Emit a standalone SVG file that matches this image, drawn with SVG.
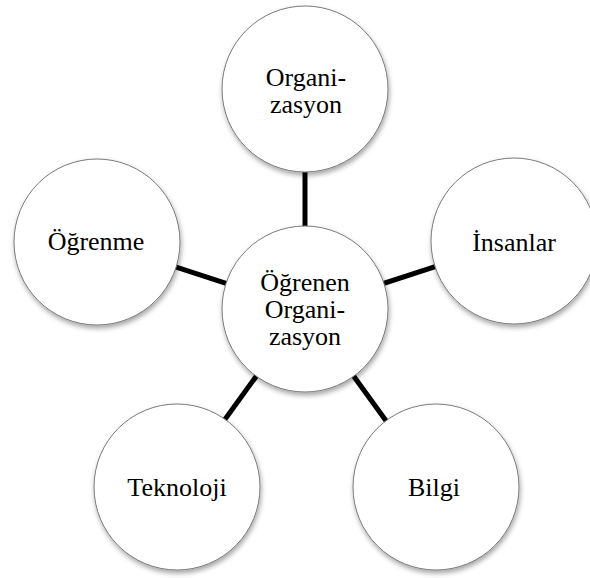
<svg xmlns="http://www.w3.org/2000/svg" width="590" height="578" viewBox="0 0 590 578">
<defs>
<filter id="sh" x="-20%" y="-20%" width="140%" height="140%">
<feDropShadow dx="1" dy="3" stdDeviation="2.5" flood-color="#000" flood-opacity="0.35"/>
</filter>
<style>
.node circle{fill:#fff;stroke:#7a7a7a;stroke-width:1;filter:url(#sh)}
.node text{font-family:'Liberation Serif','Times New Roman','DejaVu Serif',serif;font-size:26px;fill:#000;text-anchor:middle}
.conn line{stroke:#000;stroke-width:5}
</style>
</defs>
<rect width="590" height="578" fill="#fff"/>
<g id="connectors" class="conn">
<line x1="305" y1="309" x2="305" y2="89"/>
<line x1="305" y1="309" x2="514" y2="241"/>
<line x1="305" y1="309" x2="434" y2="487"/>
<line x1="305" y1="309" x2="176" y2="487"/>
<line x1="305" y1="309" x2="96" y2="241"/>
</g>
<g id="n-organizasyon" class="node">
<circle cx="305" cy="89" r="83"/>
<text x="306" y="86" font-family="Liberation Serif, serif">Organi-</text>
<text x="306" y="113" font-family="Liberation Serif, serif">zasyon</text>
</g>
<g id="n-insanlar" class="node">
<circle cx="514" cy="241" r="83"/>
<text x="514" y="251" font-family="Liberation Serif, serif">İnsanlar</text>
</g>
<g id="n-bilgi" class="node">
<circle cx="436" cy="487" r="83"/>
<text x="434" y="496" font-family="Liberation Serif, serif">Bilgi</text>
</g>
<g id="n-teknoloji" class="node">
<circle cx="177" cy="487" r="83"/>
<text x="177" y="496" font-family="Liberation Serif, serif">Teknoloji</text>
</g>
<g id="n-ogrenme" class="node">
<circle cx="97" cy="242" r="83"/>
<text x="96" y="250" font-family="Liberation Serif, serif">Öğrenme</text>
</g>
<g id="n-center" class="node">
<circle cx="305" cy="309" r="83"/>
<text x="305" y="291" font-family="Liberation Serif, serif">Öğrenen</text>
<text x="305" y="318" font-family="Liberation Serif, serif">Organi-</text>
<text x="305" y="345" font-family="Liberation Serif, serif">zasyon</text>
</g>
</svg>
